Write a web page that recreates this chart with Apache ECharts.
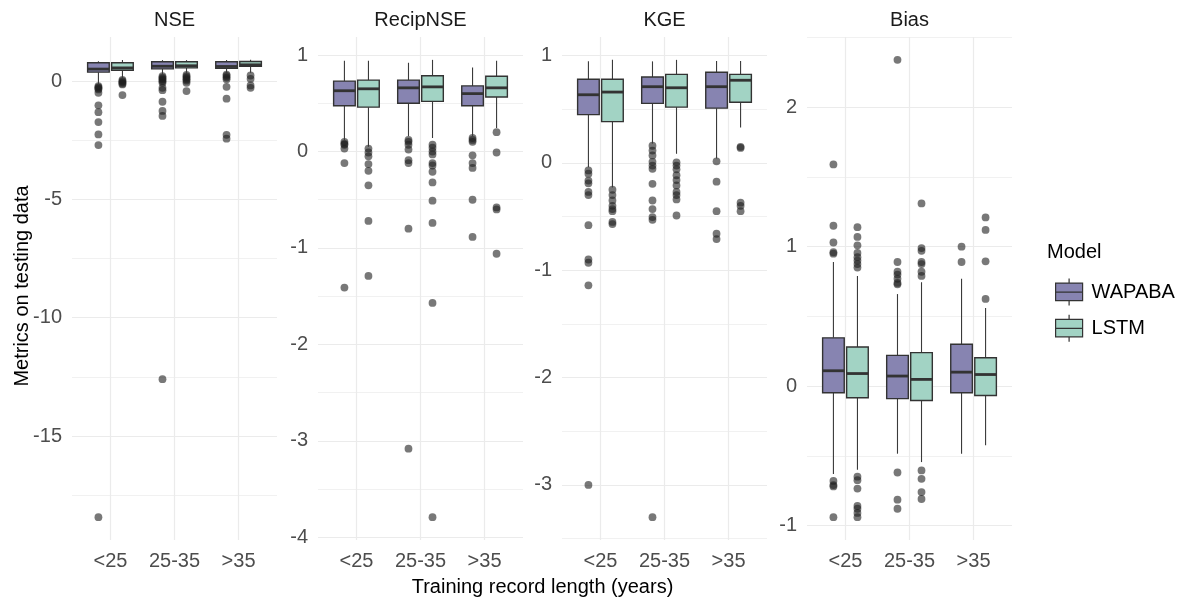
<!DOCTYPE html>
<html><head><meta charset="utf-8">
<script src="https://cdn.jsdelivr.net/npm/echarts@6/dist/echarts.min.js"></script>
<style>html,body{margin:0;padding:0;background:#fff}#c{width:1188px;height:599px}</style>
</head><body><div id="c"></div>
<script>
const categories = ['<25', '25-35', '>35'];
const models = ['WAPABA', 'LSTM'];
const metrics = ['NSE', 'RecipNSE', 'KGE', 'Bias'];

// box stats per category: [lower whisker, Q1, median, Q3, upper whisker]
const nseWapabaBox = [[-0.14, 0.38, 0.51, 0.78, 0.84], [0.25, 0.52, 0.63, 0.82, 0.89], [0.30, 0.54, 0.62, 0.82, 0.89]];
const nseLstmBox   = [[0.12, 0.46, 0.56, 0.78, 0.89], [0.30, 0.56, 0.65, 0.82, 0.89], [0.35, 0.63, 0.69, 0.83, 0.90]];
const nseWapabaOut = [[-0.21, -0.26, -0.30, -0.35, -0.49, -1.02, -1.31, -1.73, -2.25, -2.70, -18.43],
                      [0.21, 0.15, 0.10, 0.05, 0.0, -0.07, -0.28, -0.38, -0.87, -1.26, -1.47, -12.6],
                      [0.28, 0.22, 0.15, 0.08, -0.24, -0.74, -2.27, -2.43]];
const nseLstmOut   = [[0.05, 0.0, -0.05, -0.10, -0.14, -0.59],
                      [0.26, 0.20, 0.14, 0.08, 0.02, -0.07, -0.42],
                      [0.24, 0.10, -0.18, -0.28]];

const recipWapabaBox = [[0.12, 0.475, 0.63, 0.73, 0.94], [0.16, 0.50, 0.66, 0.74, 0.92], [0.16, 0.475, 0.60, 0.68, 0.87]];
const recipLstmBox   = [[0.05, 0.46, 0.65, 0.74, 0.94], [0.14, 0.52, 0.67, 0.785, 0.95], [0.245, 0.565, 0.66, 0.78, 0.94]];
const recipWapabaOut = [[0.10, 0.08, 0.07, 0.03, -0.12, -1.41],
                        [0.12, 0.10, 0.07, 0.02, -0.09, -0.12, -0.80, -3.08],
                        [0.14, 0.12, 0.10, -0.04, -0.12, -0.17, -0.50, -0.885]];
const recipLstmOut   = [[0.03, -0.01, -0.05, -0.13, -0.20, -0.35, -0.72, -1.29],
                        [0.07, 0.04, 0.0, -0.03, -0.12, -0.145, -0.21, -0.32, -0.51, -0.74, -1.57, -3.79],
                        [0.20, -0.01, -0.58, -0.60, -1.06]];

const kgeWapabaBox = [[-0.04, 0.45, 0.635, 0.78, 0.946], [0.18, 0.555, 0.71, 0.80, 0.946], [0.04, 0.51, 0.71, 0.845, 0.95]];
const kgeLstmBox   = [[-0.23, 0.385, 0.66, 0.78, 0.96], [0.085, 0.52, 0.70, 0.825, 0.96], [0.33, 0.565, 0.77, 0.825, 0.95]];
const kgeWapabaOut = [[-0.07, -0.10, -0.165, -0.19, -0.27, -0.30, -0.58, -0.90, -0.93, -1.14, -3.0],
                      [0.16, 0.115, 0.07, 0.01, -0.025, -0.055, -0.195, -0.35, -0.43, -0.505, -0.53, -3.30],
                      [0.015, -0.175, -0.45, -0.66, -0.71]];
const kgeLstmOut   = [[-0.25, -0.30, -0.35, -0.40, -0.43, -0.45, -0.55, -0.57],
                      [0.005, -0.025, -0.06, -0.115, -0.16, -0.21, -0.27, -0.30, -0.34, -0.49],
                      [0.15, 0.14, -0.37, -0.40, -0.45]];

const biasWapabaBox = [[-0.63, -0.048, 0.11, 0.346, 0.89], [-0.485, -0.09, 0.072, 0.22, 0.66], [-0.485, -0.048, 0.10, 0.30, 0.77]];
const biasLstmBox   = [[-0.60, -0.084, 0.09, 0.28, 0.79], [-0.545, -0.103, 0.048, 0.24, 0.745], [-0.425, -0.067, 0.083, 0.203, 0.56]];
const biasWapabaOut = [[1.59, 1.15, 1.03, 0.96, 0.95, -0.68, -0.71, -0.72, -0.94],
                       [2.34, 0.89, 0.82, 0.80, 0.77, 0.74, 0.73, -0.62, -0.815, -0.88],
                       [1.0, 0.89]];
const biasLstmOut   = [[1.14, 1.07, 1.01, 0.955, 0.925, 0.90, 0.875, 0.85, -0.65, -0.675, -0.735, -0.86, -0.88, -0.91, -0.94],
                       [1.31, 0.99, 0.97, 0.89, 0.875, 0.82, 0.79, -0.605, -0.665, -0.76, -0.81],
                       [1.21, 1.12, 0.895, 0.625]];

const boxData = [[nseWapabaBox, nseLstmBox], [recipWapabaBox, recipLstmBox], [kgeWapabaBox, kgeLstmBox], [biasWapabaBox, biasLstmBox]];
const outData = [[nseWapabaOut, nseLstmOut], [recipWapabaOut, recipLstmOut], [kgeWapabaOut, kgeLstmOut], [biasWapabaOut, biasLstmOut]];
const splitNumbers = [4, 5, 5, 4];

// ---- styling / layout ----
const FONT = "'Liberation Sans', Arial, Helvetica, sans-serif";
const fills = ['#8784b1', '#a2d3c4'];
const lineCol = '#333333';
const gridCol = '#ebebeb';
const panelLefts = [72, 318, 562, 807];
const PW = 205, PT = 37, PH = 503;
const unit = PW / 3.2;
const dodge = [-0.1875, 0.1875];
const boxW = 0.3375;

function boxRenderer(off, fill) {
  return function (params, api) {
    const c = api.value(0);
    const band = api.size([1, 0])[0];
    const cx = api.coord([c, 0])[0] + off * band;
    const w = boxW * band;
    const y = k => api.coord([c, api.value(k)])[1];
    const yLo = y(1), yQ1 = y(2), yMed = y(3), yQ3 = y(4), yHi = y(5);
    const ls = { stroke: '#3a3a3a', lineWidth: 1.1 };
    return {
      type: 'group',
      children: [
        { type: 'line', shape: { x1: cx, y1: yHi, x2: cx, y2: yQ3 }, style: ls },
        { type: 'line', shape: { x1: cx, y1: yQ1, x2: cx, y2: yLo }, style: ls },
        { type: 'rect', shape: { x: cx - w / 2, y: yQ3, width: w, height: yQ1 - yQ3 }, style: { fill: fill, stroke: lineCol, lineWidth: 1.4 } },
        { type: 'line', shape: { x1: cx - w / 2, y1: yMed, x2: cx + w / 2, y2: yMed }, style: { stroke: lineCol, lineWidth: 2.8 } }
      ]
    };
  };
}
function outRenderer(off) {
  return function (params, api) {
    const c = api.value(0);
    const band = api.size([1, 0])[0];
    const p = api.coord([c, api.value(1)]);
    return { type: 'circle', shape: { cx: p[0] + off * band, cy: p[1], r: 3.9 }, style: { fill: 'rgba(30,30,30,0.6)' } };
  };
}

const grids = [], xAxes = [], yAxes = [], series = [], graphics = [];
metrics.forEach((m, i) => {
  const L = panelLefts[i];
  // range from data, expanded 5% like ggplot
  let vals = [];
  boxData[i].forEach(arr => arr.forEach(b => vals.push(...b)));
  outData[i].forEach(arr => arr.forEach(o => vals.push(...o)));
  const lo = Math.min(...vals), hi = Math.max(...vals), ex = (hi - lo) * 0.05;
  const ymin = lo - ex, ymax = hi + ex;

  grids.push({ left: L, top: PT, width: PW, height: PH, outerBoundsMode: 'none' });
  grids.push({ left: L + 0.1 * unit, top: PT, width: 3 * unit, height: PH, outerBoundsMode: 'none' });
  xAxes.push({ type: 'value', gridIndex: 2 * i, show: false, min: 0, max: 1 });
  yAxes.push({
    type: 'value', gridIndex: 2 * i, min: ymin, max: ymax, splitNumber: splitNumbers[i],
    axisLine: { show: false }, axisTick: { show: false },
    axisLabel: { color: '#4d4d4d', fontSize: 20, fontFamily: FONT, margin: 10, showMinLabel: false, showMaxLabel: false },
    splitLine: { show: true, showMinLine: false, showMaxLine: false, lineStyle: { color: gridCol, width: 1.2 } },
    minorTick: { show: false, splitNumber: 2 },
    minorSplitLine: { show: true, lineStyle: { color: gridCol, width: 0.7 } }
  });
  xAxes.push({
    type: 'category', gridIndex: 2 * i + 1, data: categories,
    axisLine: { show: false }, axisTick: { show: false },
    axisLabel: { color: '#4d4d4d', fontSize: 20, fontFamily: FONT, margin: 11, interval: 0 },
    splitLine: { show: true, alignWithLabel: true, interval: 0, lineStyle: { color: gridCol, width: 1.2 } }
  });
  yAxes.push({ type: 'value', gridIndex: 2 * i + 1, min: ymin, max: ymax, show: false });

  models.forEach((model, j) => {
    series.push({
      type: 'custom', name: model, xAxisIndex: 2 * i + 1, yAxisIndex: 2 * i + 1, silent: true, z: 3,
      itemStyle: { color: fills[j] },
      data: boxData[i][j].map((b, k) => [k].concat(b)),
      encode: { x: 0, y: [1, 2, 3, 4, 5] },
      renderItem: boxRenderer(dodge[j], fills[j])
    });
    const pts = [];
    outData[i][j].forEach((arr, k) => arr.forEach(v => pts.push([k, v])));
    series.push({
      type: 'custom', name: model + ' outliers', xAxisIndex: 2 * i + 1, yAxisIndex: 2 * i + 1, silent: true, z: 2,
      data: pts, encode: { x: 0, y: 1 },
      renderItem: outRenderer(dodge[j])
    });
  });

  graphics.push({ type: 'text', x: L + PW / 2, y: 20, style: { text: m, align: 'center', verticalAlign: 'middle', fontSize: 20, fontFamily: FONT, fill: '#1a1a1a' } });
});

graphics.push({ type: 'text', x: 22, y: 286, rotation: Math.PI / 2, style: { text: 'Metrics on testing data', align: 'center', verticalAlign: 'middle', fontSize: 20, fontFamily: FONT, fill: '#000' } });
graphics.push({ type: 'text', x: 542.5, y: 587, style: { text: 'Training record length (years)', align: 'center', verticalAlign: 'middle', fontSize: 20, fontFamily: FONT, fill: '#000' } });
graphics.push({ type: 'text', x: 1047, y: 252, style: { text: 'Model', align: 'left', verticalAlign: 'middle', fontSize: 20, fontFamily: FONT, fill: '#000' } });

const keyIcon = 'path://M13.5,0L13.5,4.5M0,4.5L27,4.5L27,22L0,22ZM0,13.5L27,13.5M13.5,22L13.5,27';

const option = {
  backgroundColor: '#ffffff',
  animation: false,
  grid: grids, xAxis: xAxes, yAxis: yAxes, series: series,
  legend: {
    orient: 'vertical', left: 1050, top: 273, itemWidth: 27, itemHeight: 27, itemGap: 8,
    selectedMode: false,
    textStyle: { fontSize: 20, fontFamily: FONT, color: '#000', padding: [0, 0, 0, 4] },
    data: models.map((m, j) => ({ name: m, icon: keyIcon, itemStyle: { color: fills[j], borderColor: lineCol, borderWidth: 1.2 } }))
  },
  graphic: graphics
};
const chart = echarts.init(document.getElementById('c'), null, { renderer: 'canvas' });
chart.setOption(option);
</script></body></html>
